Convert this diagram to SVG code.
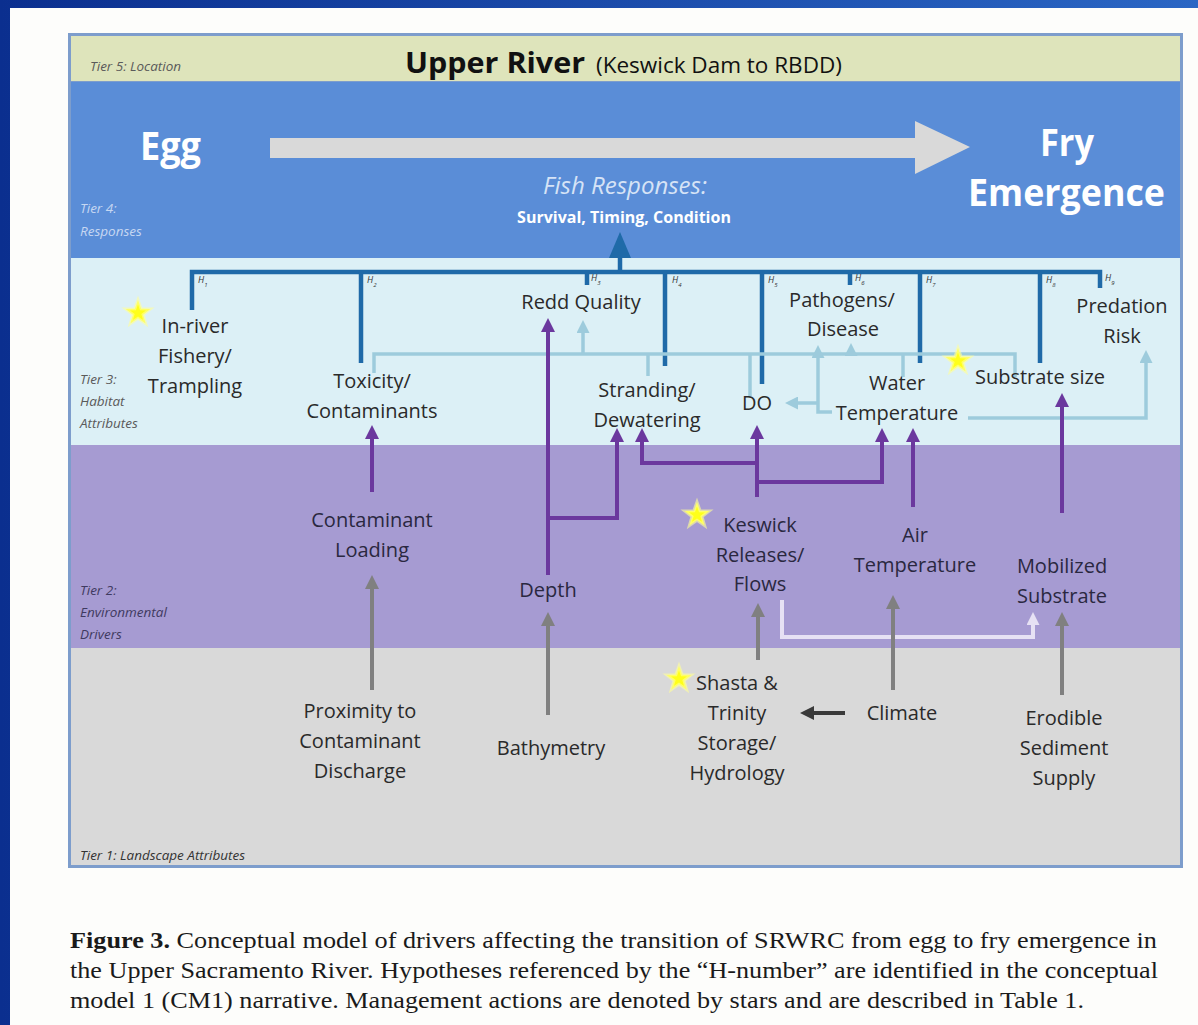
<svg xmlns="http://www.w3.org/2000/svg" width="1198" height="1025" viewBox="0 0 1198 1025">
<defs>
<linearGradient id="bg" x1="0" y1="0" x2="1" y2="0">
<stop offset="0" stop-color="#0b2f8f"/>
<stop offset="1" stop-color="#2a66c4"/>
</linearGradient>
<polygon id="star" points="0,-13 3.12,-4.29 12.36,-4.02 5.04,1.64 7.64,10.52 0,5.3 -7.64,10.52 -5.04,1.64 -12.36,-4.02 -3.12,-4.29"/>
<marker id="mp" markerUnits="userSpaceOnUse" markerWidth="14" markerHeight="14" viewBox="0 0 14 14" refX="8" refY="7" orient="auto"><path d="M0,0 L14,7 L0,14 z" fill="#6b389e"/></marker>
<marker id="mg" markerUnits="userSpaceOnUse" markerWidth="14" markerHeight="14" viewBox="0 0 14 14" refX="8" refY="7" orient="auto"><path d="M0,0 L14,7 L0,14 z" fill="#808080"/></marker>
<marker id="md" markerUnits="userSpaceOnUse" markerWidth="14" markerHeight="14" viewBox="0 0 14 14" refX="8" refY="7" orient="auto"><path d="M0,0 L14,7 L0,14 z" fill="#3a3a3a"/></marker>
<marker id="ml" markerUnits="userSpaceOnUse" markerWidth="13" markerHeight="13" viewBox="0 0 13 13" refX="7" refY="6.5" orient="auto"><path d="M0,0 L13,6.5 L0,13 z" fill="#9dcbdc"/></marker>
<marker id="mv" markerUnits="userSpaceOnUse" markerWidth="13" markerHeight="13" viewBox="0 0 13 13" refX="7" refY="6.5" orient="auto"><path d="M0,0 L13,6.5 L0,13 z" fill="#e6e1f4"/></marker>
<marker id="mb" markerUnits="userSpaceOnUse" markerWidth="26" markerHeight="22" viewBox="0 0 26 22" refX="6" refY="11" orient="auto"><path d="M0,0 L26,11 L0,22 z" fill="#1f6aa8"/></marker>
</defs>
<style>
.n{font-family:"Open Sans","Liberation Sans",sans-serif;font-size:20px;fill:#2a2a2a;text-anchor:middle}
.n2{font-family:"Open Sans","Liberation Sans",sans-serif;font-size:20px;fill:#2a2840;text-anchor:middle}
.tier{font-family:"Open Sans","Liberation Sans",sans-serif;font-size:13.5px;font-style:italic;fill:#5a5a5a}
.h{font-family:"Open Sans","Liberation Sans",sans-serif;font-size:9px;font-style:italic;fill:#333}
.hs{font-size:6px}
.big{font-family:"Open Sans","Liberation Sans",sans-serif;font-weight:bold;fill:#ffffff}
.cap{font-family:"Liberation Serif","Times New Roman",serif;font-size:22.5px;fill:#1a1a1a}
.bus{fill:none;stroke:#1f6aa8;stroke-width:4.5}
.pu{fill:none;stroke:#6b389e;stroke-width:4}
.gr{fill:none;stroke:#808080;stroke-width:4}
.lb{fill:none;stroke:#9dcbdc;stroke-width:3.5}
.lv{fill:none;stroke:#e6e1f4;stroke-width:4}
.dk{fill:none;stroke:#3a3a3a;stroke-width:4}
.st{fill:#ffff1a;stroke:#ffff99;stroke-width:3;stroke-opacity:0.6}
</style>
<!-- background -->
<rect x="0" y="0" width="1198" height="1025" fill="url(#bg)"/>
<rect x="10" y="8" width="1188" height="1017" fill="#fdfdfb"/>
<!-- frame and tiers -->
<g id="tiers">
<rect x="68" y="33" width="1115" height="835" fill="#7d9dcc"/>
<rect x="71" y="36" width="1109" height="45" fill="#dee4bb"/>
<rect x="71" y="82" width="1109" height="176" fill="#5a8dd7"/>
<rect x="71" y="258" width="1109" height="187" fill="#dcf0f6"/>
<rect x="71" y="445" width="1109" height="203" fill="#a69bd2"/>
<rect x="71" y="648" width="1109" height="217" fill="#d9d9d9"/>
<text class="tier" x="90" y="71">Tier 5: Location</text>
<text class="tier" x="80" y="213" style="fill:#c6d7f2">Tier 4:</text>
<text class="tier" x="80" y="236" style="fill:#c6d7f2">Responses</text>
<text class="tier" x="80" y="384">Tier 3:</text>
<text class="tier" x="80" y="406">Habitat</text>
<text class="tier" x="80" y="428">Attributes</text>
<text class="tier" x="80" y="595" style="fill:#3f3a60">Tier 2:</text>
<text class="tier" x="80" y="617" style="fill:#3f3a60">Environmental</text>
<text class="tier" x="80" y="639" style="fill:#3f3a60">Drivers</text>
<text class="tier" x="80" y="860" style="fill:#333">Tier 1: Landscape Attributes</text>
</g>
<g id="title">
<text x="405" y="73" font-family="Open Sans, Liberation Sans, sans-serif" fill="#111"><tspan font-weight="bold" font-size="29" textLength="180" lengthAdjust="spacingAndGlyphs">Upper River</tspan><tspan font-size="22.5" dx="11">(Keswick Dam to RBDD)</tspan></text>
</g>
<g id="tier4">
<text class="big" x="140" y="160" font-size="40" textLength="61" lengthAdjust="spacingAndGlyphs">Egg</text>
<polygon points="270,138 915,138 915,121 970,147 915,174 915,158 270,158" fill="#d9d9d9"/>
<text class="big" x="1040" y="156" font-size="38" textLength="54" lengthAdjust="spacingAndGlyphs">Fry</text>
<text class="big" x="968" y="206" font-size="38" textLength="197" lengthAdjust="spacingAndGlyphs">Emergence</text>
<text x="625" y="194" font-family="Open Sans, Liberation Sans, sans-serif" font-size="24" font-style="italic" fill="#d6e3f6" text-anchor="middle">Fish Responses:</text>
<text class="big" x="624" y="223" font-size="16" text-anchor="middle">Survival, Timing, Condition</text>
</g>
<!-- connectors -->
<g id="connectors">
<path class="bus" d="M192,310 V272 H1100 V288"/>
<path class="bus" d="M361,272 V363 M587,272 V285 M665,272 V366 M762,272 V384 M850,272 V285 M920,272 V363 M1040,272 V363"/>
<path class="bus" d="M620,272 V252" marker-end="url(#mb)"/>
<path class="lb" d="M374,373 V354 H1015 V377 M648,354 V376 M750,354 V396 M903,354 V377"/>
<path class="lb" d="M583,354 V326" marker-end="url(#ml)"/>
<path class="lb" d="M851,354 V349" marker-end="url(#ml)"/>
<path class="lb" d="M832,412 H818 V351" marker-end="url(#ml)"/>
<path class="lb" d="M818,403 H791" marker-end="url(#ml)"/>
<path class="lb" d="M968,418 H1146 V356" marker-end="url(#ml)"/>
<path class="pu" d="M372,492 V431" marker-end="url(#mp)"/>
<path class="pu" d="M548,575 V324" marker-end="url(#mp)"/>
<path class="pu" d="M548,518 H617 V434" marker-end="url(#mp)"/>
<path class="pu" d="M757,497 V431" marker-end="url(#mp)"/>
<path class="pu" d="M757,463 H642 V434" marker-end="url(#mp)"/>
<path class="pu" d="M757,482 H882 V434" marker-end="url(#mp)"/>
<path class="pu" d="M913,507 V434" marker-end="url(#mp)"/>
<path class="pu" d="M1062,513 V399" marker-end="url(#mp)"/>
<path class="lv" d="M782,600 V637 H1033 V618" marker-end="url(#mv)"/>
<path class="gr" d="M372,690 V581" marker-end="url(#mg)"/>
<path class="gr" d="M548,715 V618" marker-end="url(#mg)"/>
<path class="gr" d="M758,660 V609" marker-end="url(#mg)"/>
<path class="gr" d="M893,690 V601" marker-end="url(#mg)"/>
<path class="gr" d="M1062,695 V618" marker-end="url(#mg)"/>
<path class="dk" d="M845,713 H806" marker-end="url(#md)"/>
</g>
<g id="hlabels">
<text class="h" x="198" y="283">H<tspan class="hs" baseline-shift="sub">1</tspan></text>
<text class="h" x="367" y="283">H<tspan class="hs" baseline-shift="sub">2</tspan></text>
<text class="h" x="591" y="281">H<tspan class="hs" baseline-shift="sub">3</tspan></text>
<text class="h" x="672" y="283">H<tspan class="hs" baseline-shift="sub">4</tspan></text>
<text class="h" x="768" y="283">H<tspan class="hs" baseline-shift="sub">5</tspan></text>
<text class="h" x="855" y="281">H<tspan class="hs" baseline-shift="sub">6</tspan></text>
<text class="h" x="926" y="283">H<tspan class="hs" baseline-shift="sub">7</tspan></text>
<text class="h" x="1046" y="283">H<tspan class="hs" baseline-shift="sub">8</tspan></text>
<text class="h" x="1105" y="281">H<tspan class="hs" baseline-shift="sub">9</tspan></text>
</g>
<!-- tier 3 nodes -->
<g id="n-fishery"><use href="#star" x="138" y="313" class="st"/><text class="n" x="195" y="333">In-river</text><text class="n" x="195" y="363">Fishery/</text><text class="n" x="195" y="393">Trampling</text></g>
<g id="n-toxicity"><text class="n" x="372" y="388">Toxicity/</text><text class="n" x="372" y="418">Contaminants</text></g>
<g id="n-redd"><text class="n" x="581" y="309">Redd Quality</text></g>
<g id="n-stranding"><text class="n" x="647" y="397">Stranding/</text><text class="n" x="647" y="427">Dewatering</text></g>
<g id="n-do"><text class="n" x="757" y="410">DO</text></g>
<g id="n-pathogens"><text class="n" x="842" y="307">Pathogens/</text><text class="n" x="843" y="336">Disease</text></g>
<g id="n-watertemp"><text class="n" x="897" y="390">Water</text><text class="n" x="897" y="420">Temperature</text></g>
<g id="n-substrate"><use href="#star" x="958" y="361" class="st"/><text class="n" x="1040" y="384">Substrate size</text></g>
<g id="n-predation"><text class="n" x="1122" y="313">Predation</text><text class="n" x="1122" y="343">Risk</text></g>
<!-- tier 2 nodes -->
<g id="n-contload"><text class="n2" x="372" y="527">Contaminant</text><text class="n2" x="372" y="557">Loading</text></g>
<g id="n-depth"><text class="n2" x="548" y="597">Depth</text></g>
<g id="n-keswick"><use href="#star" x="697" y="515" class="st"/><text class="n2" x="760" y="532">Keswick</text><text class="n2" x="760" y="562">Releases/</text><text class="n2" x="760" y="591">Flows</text></g>
<g id="n-airtemp"><text class="n2" x="915" y="542">Air</text><text class="n2" x="915" y="572">Temperature</text></g>
<g id="n-mobilized"><text class="n2" x="1062" y="573">Mobilized</text><text class="n2" x="1062" y="603">Substrate</text></g>
<!-- tier 1 nodes -->
<g id="n-proximity"><text class="n" x="360" y="718">Proximity to</text><text class="n" x="360" y="748">Contaminant</text><text class="n" x="360" y="778">Discharge</text></g>
<g id="n-bathymetry"><text class="n" x="551" y="755">Bathymetry</text></g>
<g id="n-shasta"><use href="#star" x="679" y="679" class="st"/><text class="n" x="737" y="690">Shasta &amp;</text><text class="n" x="737" y="720">Trinity</text><text class="n" x="737" y="750">Storage/</text><text class="n" x="737" y="780">Hydrology</text></g>
<g id="n-climate"><text class="n" x="902" y="720">Climate</text></g>
<g id="n-erodible"><text class="n" x="1064" y="725">Erodible</text><text class="n" x="1064" y="755">Sediment</text><text class="n" x="1064" y="785">Supply</text></g>
<!-- caption -->
<g id="caption">
<text class="cap" x="70" y="948" textLength="1087" lengthAdjust="spacingAndGlyphs"><tspan font-weight="bold">Figure 3.</tspan> Conceptual model of drivers affecting the transition of SRWRC from egg to fry emergence in</text>
<text class="cap" x="70" y="978" textLength="1088" lengthAdjust="spacingAndGlyphs">the Upper Sacramento River. Hypotheses referenced by the “H-number” are identified in the conceptual</text>
<text class="cap" x="70" y="1008" textLength="1014" lengthAdjust="spacingAndGlyphs">model 1 (CM1) narrative. Management actions are denoted by stars and are described in Table 1.</text>
</g>
</svg>
